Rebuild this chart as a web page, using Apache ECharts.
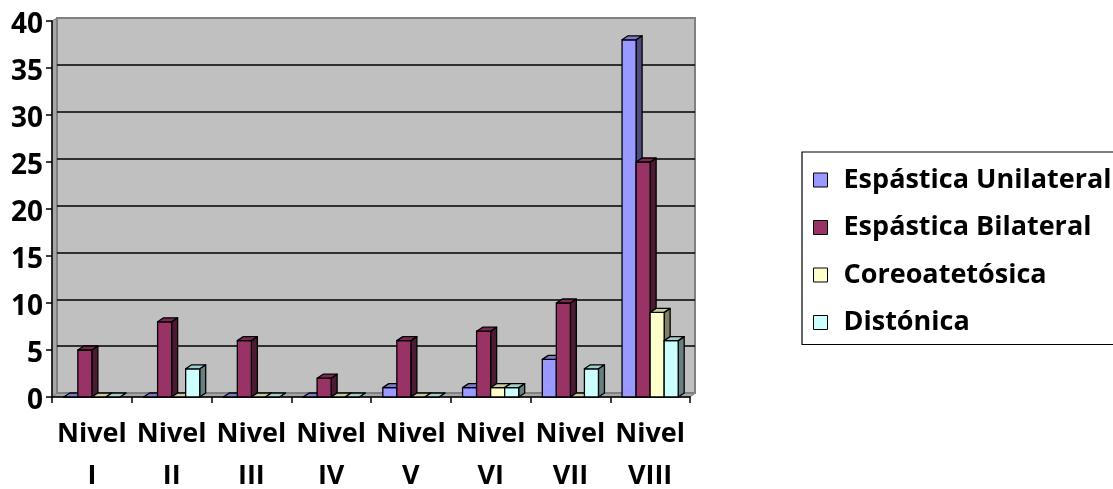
<!DOCTYPE html>
<html>
<head>
<meta charset="utf-8">
<script src="https://cdn.jsdelivr.net/npm/echarts@6/dist/echarts.min.js"></script>
<style>
  html, body { margin: 0; padding: 0; background: #ffffff; }
  #chart { width: 1113px; height: 489px; }
</style>
</head>
<body>
<div id="chart"></div>
<script>
// Categories (x axis) and tick settings
const categories = ['Nivel\nI', 'Nivel\nII', 'Nivel\nIII', 'Nivel\nIV', 'Nivel\nV', 'Nivel\nVI', 'Nivel\nVII', 'Nivel\nVIII'];
const seriesNames = ['Espástica Unilateral', 'Espástica Bilateral', 'Coreoatetósica', 'Distónica'];

// Series values per level
const espasticaUnilateral = [0, 0, 0, 0, 1, 1, 4, 38];
const espasticaBilateral  = [5, 8, 6, 2, 6, 7, 10, 25];
const coreoatetosica      = [0, 0, 0, 0, 0, 1, 0, 9];
const distonica           = [0, 3, 0, 0, 0, 1, 3, 6];

// Value axis range
const yMin = 0;
const yMax = 40;
const yStep = 5;

const seriesValues = [espasticaUnilateral, espasticaBilateral, coreoatetosica, distonica];

// Face colours: front, side, top
const palette = [
  { front: '#9999FF', side: '#4D4D80', top: '#7A7ACC' },
  { front: '#993366', side: '#4D1A33', top: '#7A2952' },
  { front: '#FFFFCC', side: '#808066', top: '#CCCCA3' },
  { front: '#CCFFFF', side: '#668080', top: '#A3CCCC' }
];

// Layout of the 3D box (front plane and back wall)
const W = 1113, H = 489;
const FRONT = { left: 52, top: 21, right: 690, bottom: 397 };
const BACK  = { left: 57, top: 18, right: 695, bottom: 393 };
const DEPTH_X = 6, DEPTH_Y = -4;
const BAR_RATIO = 0.176;
const FONT = '"Open Sans", "DejaVu Sans", sans-serif';

const chart = echarts.init(document.getElementById('chart'), null, { renderer: 'canvas' });

function renderer(idx) {
  const c = palette[idx];
  return function (params, api) {
    const cat = api.value(0);
    const val = api.value(1);
    const base = api.coord([cat, 0]);
    const tip = api.coord([cat, val]);
    const catW = api.size([1, 0])[0];
    const w = catW * BAR_RATIO;
    const x0 = base[0] - 2 * w + idx * w;
    const x1 = x0 + w;
    const yb = base[1];
    const yt = tip[1];
    const line = { stroke: '#000000', lineWidth: 1.3, lineJoin: 'round' };
    return {
      type: 'group',
      children: [
        {
          type: 'polygon',
          shape: { points: [[x1, yt], [x1 + DEPTH_X, yt + DEPTH_Y], [x1 + DEPTH_X, yb + DEPTH_Y], [x1, yb]] },
          style: Object.assign({ fill: c.side }, line)
        },
        {
          type: 'rect',
          shape: { x: x0, y: yt, width: w, height: yb - yt },
          style: Object.assign({ fill: c.front }, line)
        },
        {
          type: 'polygon',
          shape: { points: [[x0, yt], [x1, yt], [x1 + DEPTH_X, yt + DEPTH_Y], [x0 + DEPTH_X, yt + DEPTH_Y]] },
          style: Object.assign({ fill: c.top }, line)
        }
      ]
    };
  };
}

const series = seriesNames.map(function (name, i) {
  return {
    name: name,
    type: 'custom',
    xAxisIndex: 1,
    yAxisIndex: 1,
    itemStyle: { color: palette[i].front },
    encode: { x: 0, y: 1 },
    data: seriesValues[i].map(function (v, k) { return [k, v]; }),
    renderItem: renderer(i),
    z: 3
  };
});

const option = {
  backgroundColor: '#ffffff',
  animation: false,
  grid: [
    {
      // back wall
      left: BACK.left, top: BACK.top, right: W - BACK.right, bottom: H - BACK.bottom,
      show: true, backgroundColor: '#C0C0C0', borderColor: '#808080', borderWidth: 2,
      containLabel: false, outerBoundsMode: 'none'
    },
    {
      // front plane
      left: FRONT.left, top: FRONT.top, right: W - FRONT.right, bottom: H - FRONT.bottom,
      containLabel: false, outerBoundsMode: 'none'
    }
  ],
  xAxis: [
    {
      gridIndex: 0, type: 'category', data: categories, show: false
    },
    {
      gridIndex: 1, type: 'category', data: categories, boundaryGap: true,
      axisLine: { show: true, lineStyle: { color: '#000000', width: 1.5 } },
      axisTick: { show: true, interval: 0, length: 6, lineStyle: { color: '#000000', width: 1.5 } },
      axisLabel: {
        interval: 0, margin: 16, color: '#000000',
        fontFamily: FONT, fontWeight: 'bold', fontSize: 27, lineHeight: 42
      },
      splitLine: { show: false }
    }
  ],
  yAxis: [
    {
      gridIndex: 0, type: 'value', min: yMin, max: yMax, interval: yStep,
      axisLine: { show: false }, axisTick: { show: false }, axisLabel: { show: false },
      splitLine: { show: true, showMinLine: false, showMaxLine: false, lineStyle: { color: '#000000', width: 1.6 } }
    },
    {
      gridIndex: 1, type: 'value', min: yMin, max: yMax, interval: yStep,
      axisLine: { show: true, lineStyle: { color: '#000000', width: 1.5 } },
      axisTick: { show: true, length: 6, lineStyle: { color: '#000000', width: 1.5 } },
      axisLabel: {
        margin: 9, color: '#000000',
        formatter: '{v|{value}}',
        rich: {
          v: {
            color: '#000000', fontFamily: FONT, fontWeight: 'bold', fontSize: 28,
            padding: [8, 0, 0, 0]
          }
        }
      },
      splitLine: { show: false }
    }
  ],
  legend: {
    orient: 'vertical',
    left: 802, top: 152,
    padding: [13, 60, 7, 11],
    itemGap: 17.5,
    itemWidth: 14, itemHeight: 14,
    icon: 'rect',
    backgroundColor: '#ffffff',
    borderColor: '#000000', borderWidth: 1.2,
    itemStyle: { borderColor: '#000000', borderWidth: 1 },
    textStyle: {
      color: '#000000', fontFamily: FONT, fontWeight: 'bold', fontSize: 27,
      lineHeight: 30, padding: [0, 0, 0, 11]
    },
    selectedMode: false,
    data: seriesNames
  },
  graphic: [
    {
      // floor
      type: 'polygon', z: -1, silent: true,
      shape: { points: [[FRONT.left, FRONT.bottom], [FRONT.right, FRONT.bottom], [BACK.right, BACK.bottom], [BACK.left, BACK.bottom]] },
      style: { fill: '#A6A6A6', stroke: '#606060', lineWidth: 1 }
    },
    {
      // left side wall
      type: 'polygon', z: -1, silent: true,
      shape: { points: [[FRONT.left, FRONT.top], [BACK.left, BACK.top], [BACK.left, BACK.bottom], [FRONT.left, FRONT.bottom]] },
      style: { fill: '#A6A6A6', stroke: '#808080', lineWidth: 1 }
    }
  ],
  series: series
};

chart.setOption(option);
</script>
</body>
</html>
